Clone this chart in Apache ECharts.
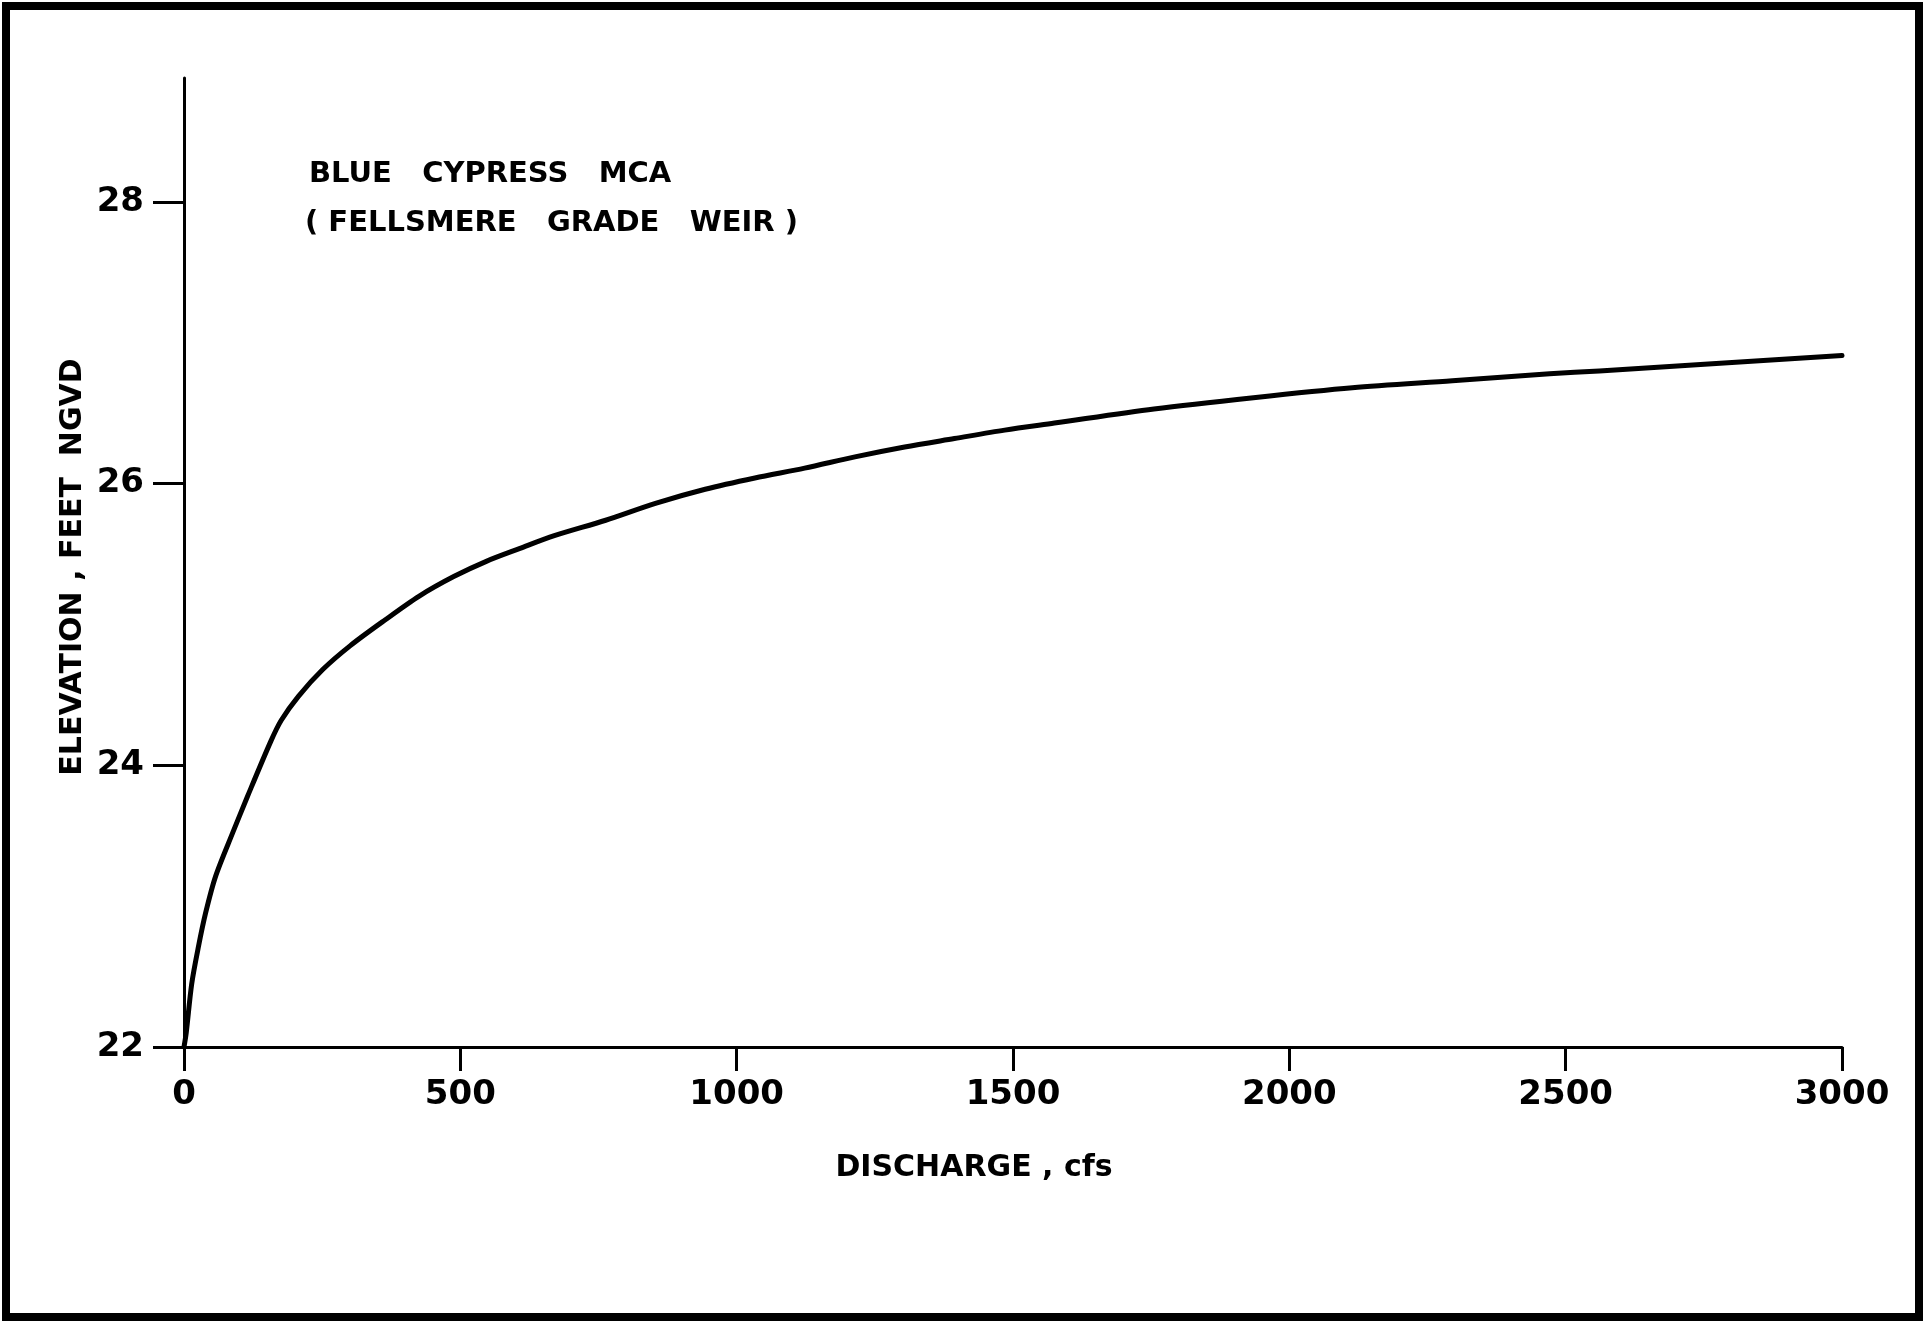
<!DOCTYPE html>
<html>
<head>
<meta charset="utf-8">
<title>Blue Cypress MCA rating curve</title>
<script src="https://cdn.jsdelivr.net/npm/echarts@6/dist/echarts.min.js"></script>
<style>
  html, body { margin: 0; padding: 0; background: #ffffff; }
  #chart { width: 1930px; height: 1323px; }
</style>
</head>
<body>
<div id="chart"></div>
<script>
// Stage-discharge rating, Fellsmere Grade weir
const discharge = [0, 4, 14, 26, 39, 57, 88, 115, 157, 176, 207, 251, 301, 363, 425, 488,
  548, 608, 670, 763, 853, 943, 1033, 1123, 1214, 1304, 1394, 1485, 1575, 1755, 1935,
  2114, 2295, 2471, 2561, 3000];
const elevation = [22.0, 22.10, 22.45, 22.71, 22.95, 23.21, 23.52, 23.78, 24.17, 24.32, 24.49,
  24.68, 24.85, 25.03, 25.20, 25.34, 25.45, 25.54, 25.63, 25.74, 25.86, 25.96, 26.04, 26.11,
  26.19, 26.26, 26.32, 26.38, 26.43, 26.53, 26.61, 26.68, 26.73, 26.78, 26.80, 26.91];

const xTicks = [0, 500, 1000, 1500, 2000, 2500, 3000];
const yTicks = [22, 24, 26, 28];

const titleLine1 = 'BLUE   CYPRESS   MCA';
const titleLine2 = '( FELLSMERE   GRADE   WEIR )';
const xTitle = 'DISCHARGE , cfs';
const yTitle = 'ELEVATION , FEET  NGVD';

const points = discharge.map((q, i) => [q, elevation[i]]);
const ink = '#000000';
const face = 'DejaVu Sans';

const chart = echarts.init(document.getElementById('chart'), null, { renderer: 'canvas' });

chart.setOption({
  backgroundColor: '#ffffff',
  animation: false,
  grid: {
    left: 184,
    right: 88,
    top: 78,
    bottom: 276,
    containLabel: false,
    outerBoundsMode: 'none'
  },
  xAxis: {
    type: 'value',
    min: 0,
    max: 3000,
    interval: 500,
    axisLine: { show: true, onZero: false, lineStyle: { color: ink, width: 3 } },
    axisTick: { show: true, inside: false, length: 24, customValues: xTicks,
      lineStyle: { color: ink, width: 3 } },
    axisLabel: { show: true, margin: 31, customValues: xTicks,
      formatter: (v) => String(v),
      color: ink, fontFamily: face, fontWeight: 'bold', fontSize: 34 },
    splitLine: { show: false }
  },
  yAxis: {
    type: 'value',
    min: 22,
    max: 28.88,
    axisLine: { show: true, onZero: false, lineStyle: { color: ink, width: 3 } },
    axisTick: { show: true, inside: false, length: 31, customValues: yTicks,
      lineStyle: { color: ink, width: 3 } },
    axisLabel: { show: true, margin: 40, customValues: yTicks,
      formatter: (v) => String(v),
      color: ink, fontFamily: face, fontWeight: 'bold', fontSize: 34 },
    splitLine: { show: false }
  },
  series: [{
    type: 'line',
    data: points,
    showSymbol: false,
    smooth: 0.3,
    lineStyle: { color: ink, width: 5, cap: 'round', join: 'round' },
    silent: true
  }],
  graphic: [
    {
      type: 'rect',
      silent: true,
      shape: { x: 6, y: 6, width: 1913, height: 1311 },
      style: { fill: null, stroke: ink, lineWidth: 8 }
    },
    {
      type: 'text', x: 309, y: 174,
      style: { text: titleLine1, fill: ink, font: 'bold 29px "DejaVu Sans"',
        textAlign: 'left', textVerticalAlign: 'middle' }
    },
    {
      type: 'text', x: 305, y: 223,
      style: { text: titleLine2, fill: ink, font: 'bold 29px "DejaVu Sans"',
        textAlign: 'left', textVerticalAlign: 'middle' }
    },
    {
      type: 'text', x: 974, y: 1168,
      style: { text: xTitle, fill: ink, font: 'bold 30px "DejaVu Sans"',
        textAlign: 'center', textVerticalAlign: 'middle' }
    },
    {
      type: 'text', x: 73, y: 567, rotation: Math.PI / 2,
      style: { text: yTitle, fill: ink, font: 'bold 30px "DejaVu Sans"',
        textAlign: 'center', textVerticalAlign: 'middle' }
    }
  ]
});
</script>
</body>
</html>
